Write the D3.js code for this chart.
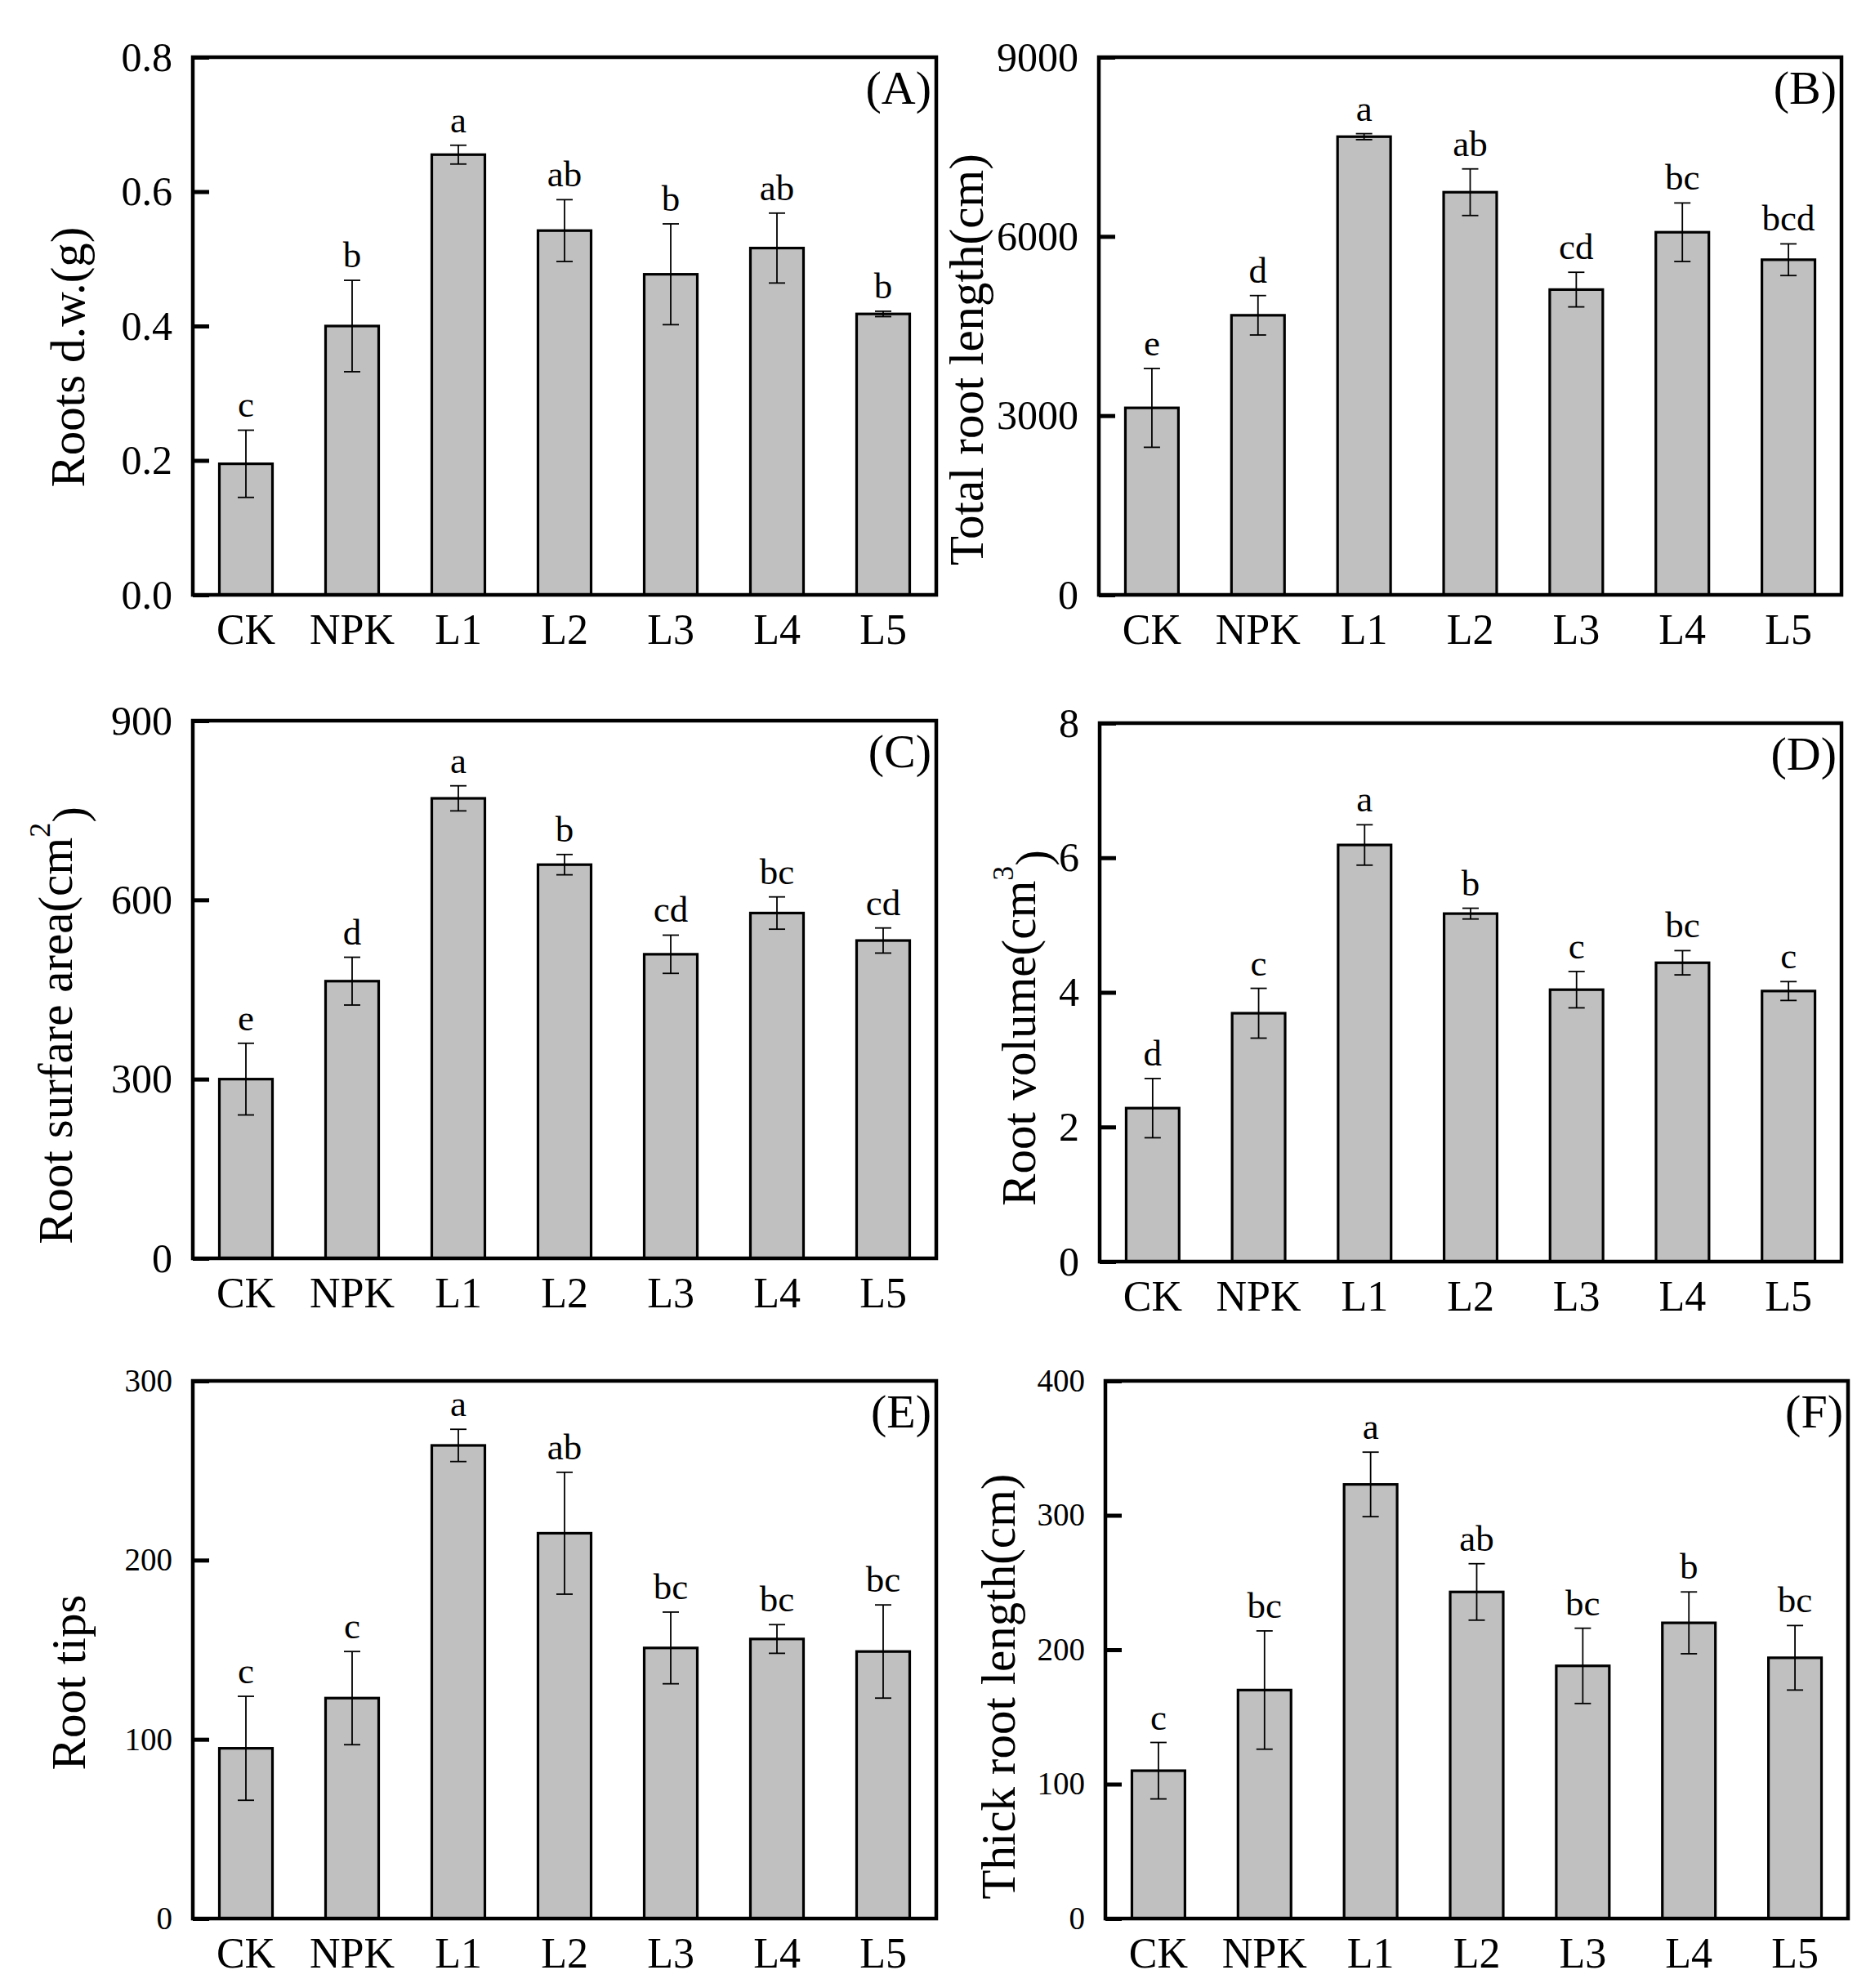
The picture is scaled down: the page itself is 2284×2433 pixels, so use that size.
<!DOCTYPE html>
<html>
<head>
<meta charset="utf-8">
<script src="https://cdn.jsdelivr.net/npm/d3@7/dist/d3.min.js"></script>
<style>
  html, body { margin: 0; padding: 0; background: #ffffff; }
  text { font-family: "Liberation Serif", "Times New Roman", serif; fill: #000; }
</style>
</head>
<body>
<svg id="chart" width="2284" height="2433"></svg>
<script>
// ---------- data ----------
const categories = ["CK", "NPK", "L1", "L2", "L3", "L4", "L5"];

const dwMean = [0.195, 0.400, 0.655, 0.542, 0.477, 0.516, 0.418];
const dwErr  = [0.050, 0.068, 0.014, 0.046, 0.075, 0.052, 0.004];
const dwSig  = ["c", "b", "a", "ab", "b", "ab", "b"];
const dwTicks = [0, 0.2, 0.4, 0.6, 0.8];

const lenMean = [3130, 4680, 7670, 6740, 5110, 6070, 5610];
const lenErr  = [660, 330, 50, 390, 290, 490, 265];
const lenSig  = ["e", "d", "a", "ab", "cd", "bc", "bcd"];
const lenTicks = [0, 3000, 6000, 9000];

const areaMean = [300, 464, 770, 659, 509, 578, 532];
const areaErr  = [60, 40, 21, 17, 32, 27, 21];
const areaSig  = ["e", "d", "a", "b", "cd", "bc", "cd"];
const areaTicks = [0, 300, 600, 900];

const volMean = [2.28, 3.69, 6.19, 5.17, 4.04, 4.44, 4.02];
const volErr  = [0.44, 0.37, 0.30, 0.08, 0.27, 0.18, 0.14];
const volSig  = ["d", "c", "a", "b", "c", "bc", "c"];
const volTicks = [0, 2, 4, 6, 8];

const tipsMean = [95, 123, 264, 215, 151, 156, 149];
const tipsErr  = [29, 26, 9, 34, 20, 8, 26];
const tipsSig  = ["c", "c", "a", "ab", "bc", "bc", "bc"];
const tipsTicks = [0, 100, 200, 300];

const thickMean = [110, 170, 323, 243, 188, 220, 194];
const thickErr  = [21, 44, 24, 21, 28, 23, 24];
const thickSig  = ["c", "bc", "a", "ab", "bc", "b", "bc"];
const thickTicks = [0, 100, 200, 300, 400];

// ---------- panels (layout) ----------
const panels = [
  { tag: "(A)", mean: dwMean, err: dwErr, sig: dwSig, ticks: dwTicks, fmt: d3.format(".1f"),
    label: "Roots d.w.(g)", sup: null, x0: 236, x1: 1146, y0: 70, y1: 728, tickFont: 50, lx: 82, ly: 437 },
  { tag: "(B)", mean: lenMean, err: lenErr, sig: lenSig, ticks: lenTicks, fmt: d3.format("d"),
    label: "Total root length(cm)", sup: null, x0: 1345, x1: 2254, y0: 70, y1: 728, tickFont: 50, lx: 1182, ly: 440 },
  { tag: "(C)", mean: areaMean, err: areaErr, sig: areaSig, ticks: areaTicks, fmt: d3.format("d"),
    label: "Root surfare area(cm", sup: "2", x0: 236, x1: 1146, y0: 882, y1: 1540, tickFont: 50, lx: 67, ly: 1255 },
  { tag: "(D)", mean: volMean, err: volErr, sig: volSig, ticks: volTicks, fmt: d3.format("d"),
    label: "Root volume(cm", sup: "3", x0: 1346, x1: 2254, y0: 885, y1: 1544, tickFont: 50, lx: 1246, ly: 1258 },
  { tag: "(E)", mean: tipsMean, err: tipsErr, sig: tipsSig, ticks: tipsTicks, fmt: d3.format("d"),
    label: "Root tips", sup: null, x0: 236, x1: 1146, y0: 1690, y1: 2348, tickFont: 39, lx: 83, ly: 2059 },
  { tag: "(F)", mean: thickMean, err: thickErr, sig: thickSig, ticks: thickTicks, fmt: d3.format("d"),
    label: "Thick root length(cm)", sup: null, x0: 1353, x1: 2262, y0: 1690, y1: 2348, tickFont: 39, lx: 1221, ly: 2064 }
];

const svg = d3.select("#chart");

panels.forEach(p => {
  const g = svg.append("g");
  const x = d3.scaleBand().domain(categories).range([p.x0, p.x1]).paddingInner(0.5).paddingOuter(0.25);
  const yMax = p.ticks[p.ticks.length - 1];
  const y = d3.scaleLinear().domain([0, yMax]).range([p.y1, p.y0]);

  const rows = categories.map((c, i) => ({ c, m: p.mean[i], e: p.err[i], s: p.sig[i] }));
  const cx = d => x(d.c) + x.bandwidth() / 2;

  // bars
  g.selectAll("rect.bar").data(rows).join("rect")
    .attr("class", "bar")
    .attr("x", d => x(d.c))
    .attr("width", x.bandwidth())
    .attr("y", d => y(d.m))
    .attr("height", d => y(0) - y(d.m))
    .attr("fill", "#c0c0c0")
    .attr("stroke", "#000")
    .attr("stroke-width", 3.2);

  // error bars
  const cap = 10;
  const eb = g.selectAll("g.err").data(rows).join("g").attr("class", "err")
    .attr("stroke", "#000").attr("stroke-width", 1.8);
  eb.append("line")
    .attr("x1", cx).attr("x2", cx)
    .attr("y1", d => y(d.m - d.e)).attr("y2", d => y(d.m + d.e));
  eb.append("line")
    .attr("x1", d => cx(d) - cap).attr("x2", d => cx(d) + cap)
    .attr("y1", d => y(d.m + d.e)).attr("y2", d => y(d.m + d.e));
  eb.append("line")
    .attr("x1", d => cx(d) - cap).attr("x2", d => cx(d) + cap)
    .attr("y1", d => y(d.m - d.e)).attr("y2", d => y(d.m - d.e));

  // significance letters
  g.selectAll("text.sig").data(rows).join("text")
    .attr("class", "sig")
    .attr("x", cx)
    .attr("y", d => y(d.m + d.e) - 16)
    .attr("text-anchor", "middle")
    .attr("font-size", 45)
    .text(d => d.s);

  // y axis (ticks inward)
  const yAxis = d3.axisLeft(y).tickValues(p.ticks).tickFormat(p.fmt)
    .tickSizeInner(-20).tickSizeOuter(0).tickPadding(25);
  const ya = g.append("g").attr("transform", `translate(${p.x0},0)`).call(yAxis);
  ya.select(".domain").remove();
  ya.selectAll(".tick line").attr("stroke", "#000").attr("stroke-width", 5);
  ya.selectAll(".tick text")
    .attr("font-size", p.tickFont)
    .attr("font-family", "Liberation Serif, Times New Roman, serif")
    .attr("fill", "#000");

  // x axis labels
  const xAxis = d3.axisBottom(x).tickSize(0).tickPadding(23);
  const xa = g.append("g").attr("transform", `translate(0,${p.y1})`).call(xAxis);
  xa.select(".domain").remove();
  xa.selectAll(".tick text")
    .attr("font-size", 52)
    .attr("font-family", "Liberation Serif, Times New Roman, serif")
    .attr("fill", "#000");

  // frame
  g.append("rect")
    .attr("x", p.x0).attr("y", p.y0)
    .attr("width", p.x1 - p.x0).attr("height", p.y1 - p.y0)
    .attr("fill", "none").attr("stroke", "#000").attr("stroke-width", 4.5);

  // panel tag
  g.append("text")
    .attr("x", p.x1 - 6).attr("y", p.y0 + 57)
    .attr("text-anchor", "end")
    .attr("font-size", 58)
    .text(p.tag);

  // y label
  const lab = g.append("text")
    .attr("transform", `translate(${p.lx},${p.ly}) rotate(-90)`)
    .attr("text-anchor", "middle")
    .attr("dy", "0.35em")
    .attr("font-size", 59);
  lab.append("tspan").text(p.label);
  if (p.sup) {
    lab.append("tspan").attr("dy", "-0.75em").attr("font-size", 36).text(p.sup);
    lab.append("tspan").attr("dy", "0.75em").text(")");
  }
});
</script>
</body>
</html>
